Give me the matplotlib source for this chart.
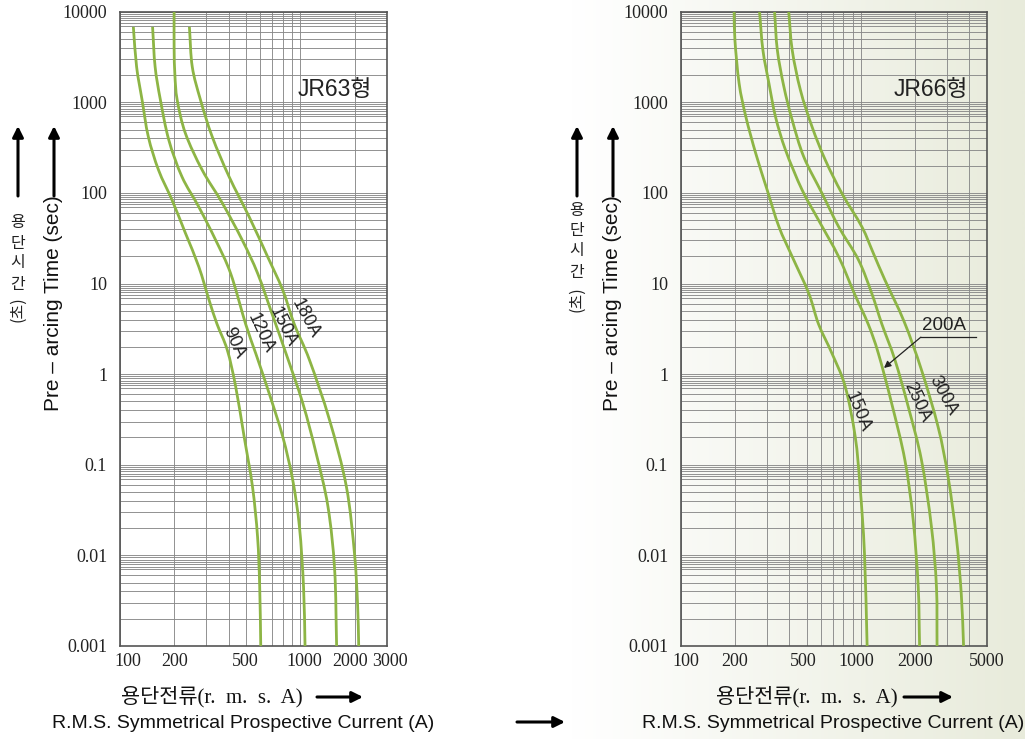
import numpy as np
import matplotlib.pyplot as plt
from matplotlib.ticker import FixedLocator, NullFormatter, FixedFormatter
from matplotlib.colors import LinearSegmentedColormap
from matplotlib.path import Path
from matplotlib.patches import PathPatch

# JR63 curves: prospective current (A) vs pre-arcing time (s)
jr63_90_i = [119, 124, 133, 144, 164, 195, 231, 274, 312, 345, 394, 438, 488, 543, 579, 595, 603]
jr63_90_t = [6800, 2470, 1060, 417, 179, 83, 36, 15.3, 6.6, 3.6, 1.84, 0.73, 0.204, 0.057, 0.016, 0.0045, 0.001]
jr63_120_i = [152, 157, 168, 187, 221, 274, 340, 411, 498, 566, 672, 798, 906, 987, 1040, 1060]
jr63_120_t = [6800, 2470, 1060, 383, 151, 70, 30, 12.9, 3.55, 1.69, 0.61, 0.204, 0.068, 0.0207, 0.0045, 0.001]
jr63_150_i = [200, 200, 202, 208, 231, 286, 370, 477, 580, 700, 832, 1031, 1222, 1420, 1546, 1585]
jr63_150_t = [10000, 4000, 2000, 1060, 454, 179, 77, 30, 12.9, 4.5, 1.69, 0.475, 0.133, 0.0344, 0.0069, 0.001]
jr63_180_i = [243, 252, 280, 325, 403, 520, 658, 798, 925, 1122, 1449, 1796, 1990, 2070, 2100]
jr63_180_t = [6800, 2470, 1060, 417, 151, 54.6, 19.8, 8.47, 3.55, 1.43, 0.311, 0.057, 0.0105, 0.0029, 0.001]

# JR66 curves
jr66_150_i = [198, 200, 211, 230, 261, 302, 351, 416, 514, 583, 692, 819, 931, 991, 1048, 1084]
jr66_150_t = [10000, 4870, 1618, 693, 273, 108, 42.4, 19.8, 7.8, 3.55, 1.69, 0.73, 0.204, 0.057, 0.0105, 0.001]
jr66_200_i = [274, 286, 309, 336, 382, 472, 583, 753, 920, 1100, 1252, 1484, 1758, 1954, 2083, 2120]
jr66_200_t = [10000, 3775, 1618, 693, 297, 108, 50, 19.8, 7.8, 3.55, 1.69, 0.475, 0.112, 0.0245, 0.0045, 0.001]
jr66_250_i = [332, 344, 374, 416, 482, 609, 753, 971, 1150, 1310, 1548, 1834, 2173, 2467, 2630, 2650]
jr66_250_t = [10000, 3775, 1487, 637, 251, 99, 42.4, 18.2, 7.8, 3.55, 1.43, 0.437, 0.112, 0.0207, 0.0045, 0.001]
jr66_300_i = [398, 416, 462, 536, 635, 785, 1013, 1175, 1362, 1740, 2173, 2686, 3051, 3390, 3614, 3720]
jr66_300_t = [10000, 3775, 1366, 538, 231, 99, 42.4, 21.5, 10.9, 3.8, 1.11, 0.262, 0.0738, 0.016, 0.0037, 0.001]

y_ticks = [0.001, 0.01, 0.1, 1, 10, 100, 1000, 10000]
y_labels = ['0.001', '0.01', '0.1', '1', '10', '100', '1000', '10000']
left_xticks = [100, 200, 500, 1000, 2000, 3000]
right_xticks = [100, 200, 500, 1000, 2000, 5000]
# the printed log paper has a few extra half lines near the top of each decade
y_minor = [2, 3, 4, 5, 6, 7, 7.5, 8, 8.5, 9, 9.5]

green = '#8db545'
grid_c = '#8a8a8a'
ink = '#222222'
sans = ['Liberation Sans', 'Noto Sans CJK KR']
serif = ['Liberation Serif', 'Noto Sans CJK KR']

W, H = 1025, 739
fig = plt.figure(figsize=(W / 100, H / 100), dpi=100)


def fx(px):
    return px / W


def fy(py):
    return 1 - py / H


# background gradient on the right half
bg = fig.add_axes([0, 0, 1, 1], zorder=0)
cmap = LinearSegmentedColormap.from_list('bg', [(0, '#ffffff'), (0.56, '#ffffff'), (1, '#e8ebdb')])
bg.imshow(np.linspace(0, 1, 512)[None, :], aspect='auto', cmap=cmap, extent=[0, 1, 0, 1])
bg.set_axis_off()


def setup(ax, xmax, xticks, nudge):
    ax.set_xscale('log')
    ax.set_yscale('log')
    ax.set_xlim(100, xmax)
    ax.set_ylim(0.001, 10000)
    ax.set_facecolor('none')
    ax.xaxis.set_major_locator(FixedLocator(xticks))
    ax.xaxis.set_major_formatter(NullFormatter())
    ax.xaxis.set_minor_locator(FixedLocator([m * 10 ** d for d in (2, 3) for m in range(1, 10)]))
    ax.xaxis.set_minor_formatter(NullFormatter())
    ax.yaxis.set_major_locator(FixedLocator(y_ticks))
    ax.yaxis.set_major_formatter(FixedFormatter(y_labels))
    ax.yaxis.set_minor_locator(FixedLocator([m * 10.0 ** d for d in range(-3, 4) for m in y_minor]))
    ax.yaxis.set_minor_formatter(NullFormatter())
    ax.tick_params(which='both', length=0)
    ax.tick_params(axis='y', pad=9)
    for lab in ax.get_yticklabels():
        lab.set_family(serif)
        lab.set_fontsize(13)
        lab.set_color(ink)
    for v, dx in zip(xticks, nudge):
        ax.annotate(str(v), xy=(v, 0), xycoords=('data', 'axes fraction'), xytext=(dx, -16),
                    textcoords='offset pixels', ha='center', va='center', family=serif, fontsize=13, color=ink)
    ax.grid(which='both', color=grid_c, lw=0.65)
    ax.set_axisbelow(True)
    for s in ax.spines.values():
        s.set_color('#555555')
        s.set_linewidth(1.2)


def curve(ax, xs, ys):
    # smooth cubic path through the read points (in log-log space)
    p = np.column_stack([np.log10(xs), np.log10(ys)])
    m = np.zeros_like(p)
    m[1:-1] = (p[2:] - p[:-2]) / 2
    m[0] = p[1] - p[0]
    m[-1] = p[-1] - p[-2]
    verts = [p[0]]
    codes = [Path.MOVETO]
    for k in range(len(p) - 1):
        verts += [p[k] + m[k] / 3, p[k + 1] - m[k + 1] / 3, p[k + 1]]
        codes += [Path.CURVE4] * 3
    ax.add_patch(PathPatch(Path(10 ** np.array(verts), codes), fill=False, edgecolor=green, lw=2.0,
                           capstyle='butt', zorder=3))


axl = fig.add_axes([fx(119.7), fy(646), fx(386.7) - fx(119.7), fy(11.7) - fy(646)], zorder=1)
axr = fig.add_axes([fx(680.7), fy(646), fx(986.7) - fx(680.7), fy(11.7) - fy(646)], zorder=1)
setup(axl, 3000, left_xticks, [8, 1, -1, 4, -5, 3])
setup(axr, 5000, right_xticks, [5, 0, -3, -5, 0, 0])

for i, t in [(jr63_90_i, jr63_90_t), (jr63_120_i, jr63_120_t), (jr63_150_i, jr63_150_t), (jr63_180_i, jr63_180_t)]:
    curve(axl, i, t)
for i, t in [(jr66_150_i, jr66_150_t), (jr66_200_i, jr66_200_t), (jr66_250_i, jr66_250_t), (jr66_300_i, jr66_300_t)]:
    curve(axr, i, t)

# curve labels
lab_kw = dict(family=sans, fontsize=13, color=ink, ha='center', va='center')
for txt, x, y, r in [('90A', 234, 343, -66), ('120A', 261, 333, -65), ('150A', 283, 327, -64), ('180A', 305, 318, -62)]:
    fig.text(fx(x), fy(y), txt, rotation=r, **lab_kw)
for txt, x, y, r in [('150A', 858, 412, -68), ('250A', 917, 402, -65), ('300A', 943, 396, -62)]:
    fig.text(fx(x), fy(y), txt, rotation=r, **lab_kw)

# 200A leader
axr.plot([2154, 4339], [2.56, 2.56], color=ink, lw=0.9, clip_on=False)
axr.annotate('', xy=(1345, 1.17), xytext=(2154, 2.56),
             arrowprops=dict(arrowstyle='-|>', color=ink, lw=0.9, mutation_scale=10, shrinkA=0, shrinkB=0))
axr.text(2886, 2.8, '200A', family=sans, fontsize=13.5, color=ink, ha='center', va='bottom')

axl.text(0.945, 0.878, 'JR63형', transform=axl.transAxes, family=sans, fontsize=16.5, color=ink, ha='right', va='center')
axr.text(0.939, 0.878, 'JR66형', transform=axr.transAxes, family=sans, fontsize=16.5, color=ink, ha='right', va='center')

arrow_kw = dict(arrowstyle='-|>', color='black', lw=2.2, mutation_scale=16, shrinkA=0, shrinkB=0)


def y_side(xk, xe, korean_ys, paren_y):
    for x in (xk, xe):
        fig.add_artist(plt.Annotation('', xy=(fx(x), fy(126)), xytext=(fx(x), fy(196)),
                                      xycoords='figure fraction', textcoords='figure fraction', arrowprops=arrow_kw))
    for ch, y in zip('용단시간', korean_ys):
        fig.text(fx(xk), fy(y), ch, family=['Noto Sans CJK KR'], fontsize=11.5, ha='center', va='center', color=ink)
    fig.text(fx(xk), fy(paren_y), '(초)', family=['Noto Sans CJK KR'], fontsize=11.5, rotation=90,
             ha='center', va='center', color=ink)
    fig.text(fx(xe), fy(303), 'Pre – arcing Time (sec)', family=sans, fontsize=15, rotation=90,
             ha='center', va='center', color='#111111')


y_side(18, 54, [222, 243, 263, 284], 309)
y_side(577, 613, [210, 231, 251, 272], 299)


def x_side(xc, a0, a1, xe):
    fig.text(fx(xc), fy(697), '용단전류(r.  m.  s.  A)', family=serif, fontsize=15, ha='center', va='center',
             color='#111111')
    fig.add_artist(plt.Annotation('', xy=(fx(a1), fy(697)), xytext=(fx(a0), fy(697)),
                                  xycoords='figure fraction', textcoords='figure fraction', arrowprops=arrow_kw))
    fig.text(fx(xe), fy(724), 'R.M.S. Symmetrical Prospective Current (A)', family=sans, fontsize=14,
             ha='center', va='center', color='#111111')


x_side(212, 317, 363, 243)
x_side(807, 904, 953, 833)
fig.add_artist(plt.Annotation('', xy=(fx(565), fy(722)), xytext=(fx(517), fy(722)),
                              xycoords='figure fraction', textcoords='figure fraction', arrowprops=arrow_kw))

fig.savefig('out.png', dpi=100)
